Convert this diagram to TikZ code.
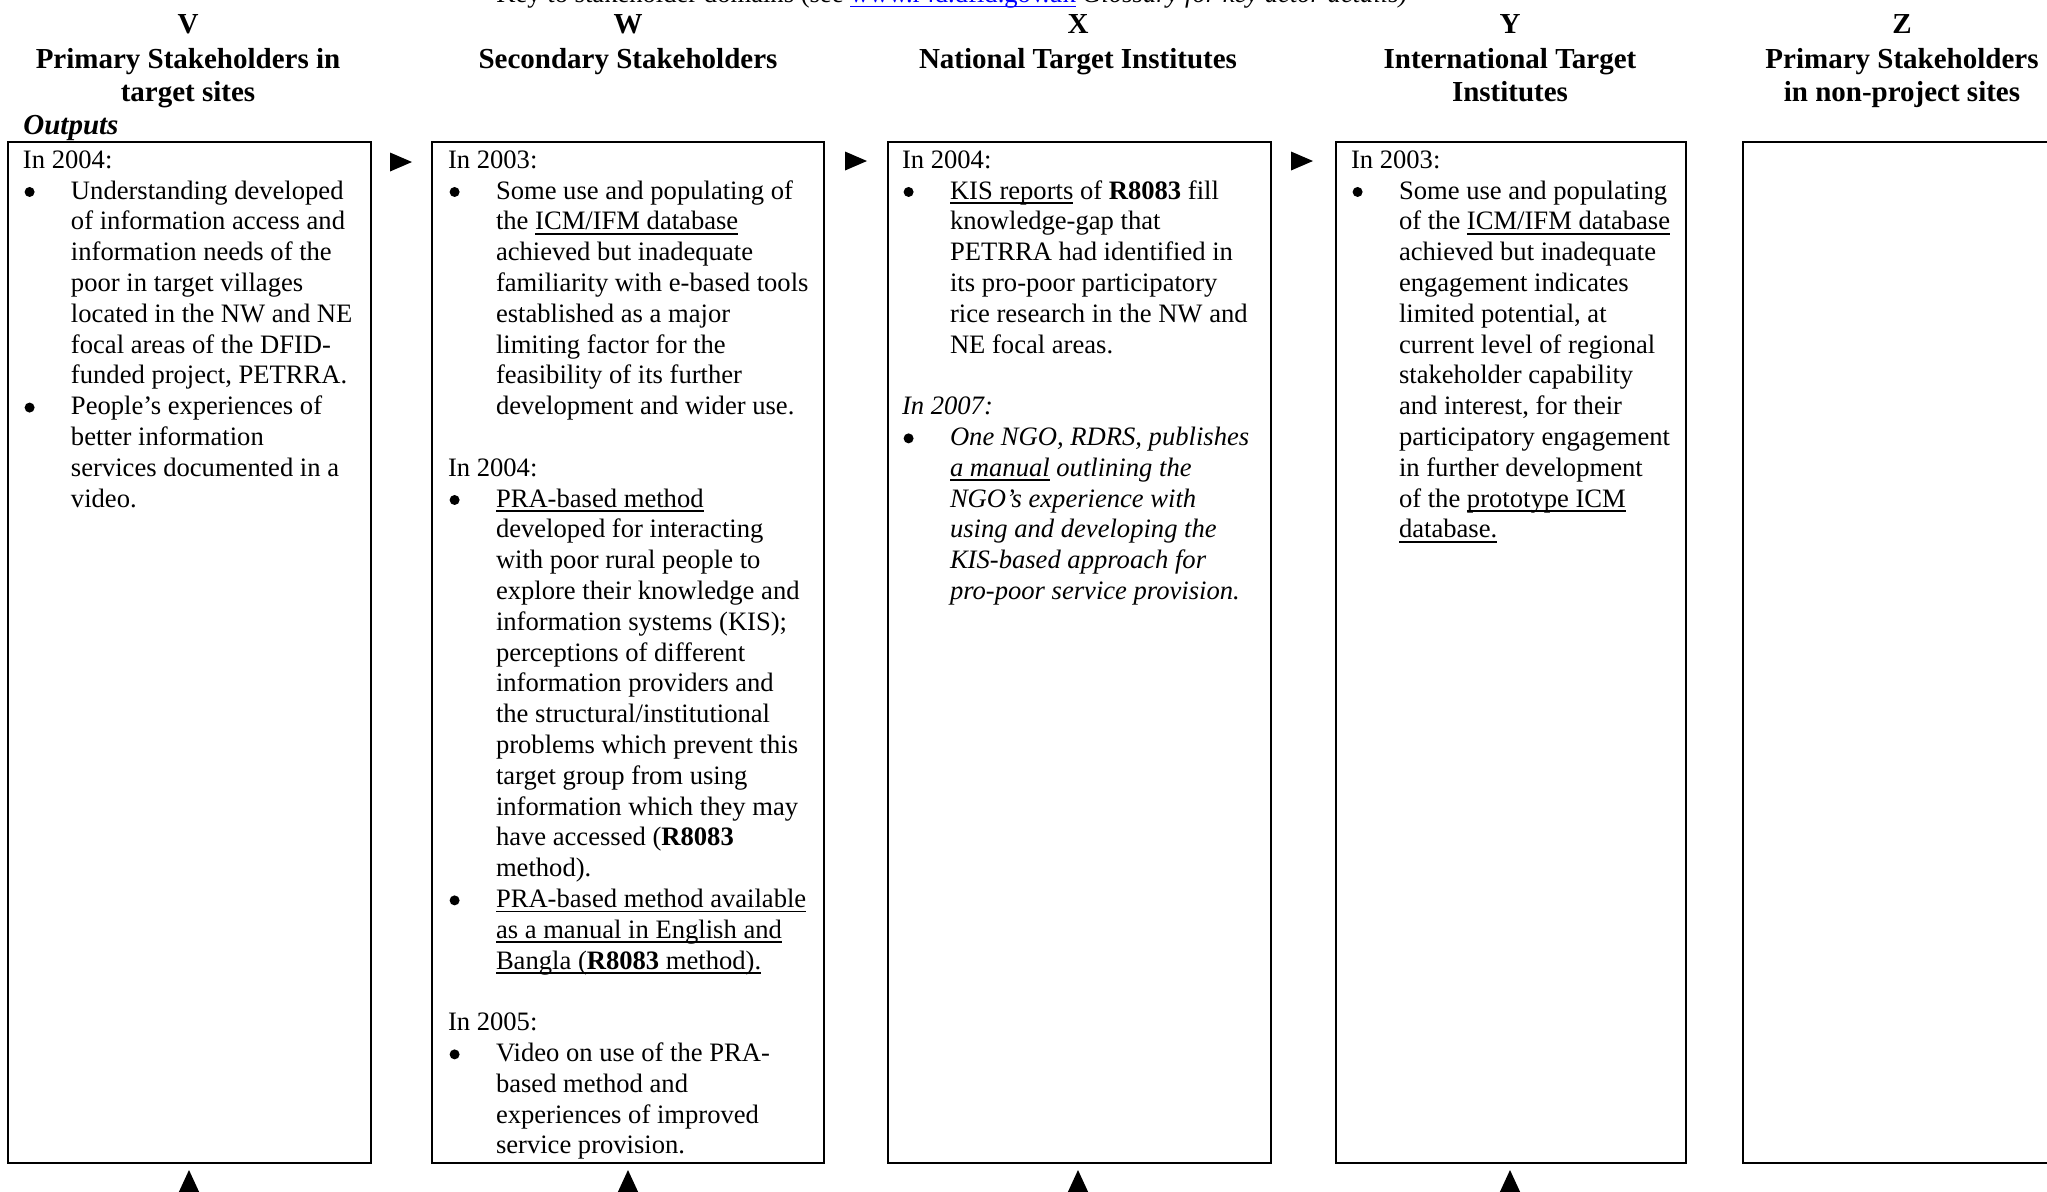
\documentclass[tikz,border=0pt]{standalone}
\usepackage{fontspec}
\setmainfont{Liberation Serif}
\newsavebox\ulbox
\newcommand\uln[1]{\sbox\ulbox{#1}\rlap{\rule[-2.4pt]{\wd\ulbox}{0.9pt}}\usebox\ulbox}
\newcommand\bodyfnt{\fontsize{13.3pt}{15.4pt}\selectfont}
\newcommand\headfnt{\fontsize{14.5pt}{16.5pt}\selectfont\bfseries}
\newcommand\bl{\makebox[24pt][l]{\hspace{0.8pt}\raisebox{1.1pt}{\tikz\fill[black] (0pt,0pt) circle (2.5pt);}}}
\newcommand\ind{\makebox[24pt]{}}
\begin{document}
\begin{tikzpicture}[x=0.5pt,y=-0.5pt,
  panel/.style={draw=black,line width=1.1pt},
  txt/.style={anchor=north west,inner sep=0pt,outer sep=0pt,align=left,font=\bodyfnt},
  hdletter/.style={anchor=base,inner sep=0pt,font=\headfnt},
  hdtitle/.style={anchor=north,inner sep=0pt,align=center,font=\headfnt},
  tri/.style={fill=black,draw=none}]
\useasboundingbox[fill=white] (0,0) rectangle (2047,1191);

% top (cut-off) note
\node[anchor=base west,inner sep=0pt,font=\bodyfnt] (topnote) at (496,2.5)
  {Key to stakeholder domains (see {\color{blue}\uln{www.r4d.dfid.gov.uk}} \textit{Glossary for key actor details)}};

% column headers
\node[hdletter] (hV) at (188,33) {V};
\node[hdletter] (hW) at (628,33) {W};
\node[hdletter] (hX) at (1078,33) {X};
\node[hdletter] (hY) at (1510,33) {Y};
\node[hdletter] (hZ) at (1902,33) {Z};
\node[hdtitle] (tV) at (188,44.9) {\strut Primary Stakeholders in\\target sites};
\node[hdtitle] (tW) at (628,44.9) {\strut Secondary Stakeholders};
\node[hdtitle] (tX) at (1078,44.9) {\strut National Target Institutes};
\node[hdtitle] (tY) at (1510,44.9) {\strut International Target\\Institutes};
\node[hdtitle] (tZ) at (1902,44.9) {\strut Primary Stakeholders\\in non-project sites};
\node[anchor=base west,inner sep=0pt,font=\headfnt] (outputs) at (23,134) {\textit{Outputs}};

% panels
\draw[panel] (8,142) rectangle (371,1163);
\draw[panel] (432,142) rectangle (824,1163);
\draw[panel] (888,142) rectangle (1271,1163);
\draw[panel] (1336,142) rectangle (1686,1163);
\draw[panel] (1743,142) rectangle (2070,1163);

% right-pointing triangles
\foreach \cx/\cy in {401/162,856/161,1302/161}
  \fill[tri] (\cx-11,\cy-9.5) -- (\cx+11,\cy) -- (\cx-11,\cy+9.5) -- cycle;
% up-pointing triangles
\foreach \cx in {189,628,1078,1510}
  \fill[tri] (\cx,1170) -- (\cx+12,1196) -- (\cx-12,1196) -- cycle;

% panel texts
\node[txt] (bV) at (23,146.8) {\strut In 2004:\\
\bl Understanding developed\\
\ind of information access and\\
\ind information needs of the\\
\ind poor in target villages\\
\ind located in the NW and NE\\
\ind focal areas of the DFID-\\
\ind funded project, PETRRA.\\
\bl People’s experiences of\\
\ind better information\\
\ind services documented in a\\
\ind video.};

\node[txt] (bW) at (448,146.8) {\strut In 2003:\\
\bl Some use and populating of\\
\ind the \uln{ICM/IFM database}\\
\ind achieved but inadequate\\
\ind familiarity with e-based tools\\
\ind established as a major\\
\ind limiting factor for the\\
\ind feasibility of its further\\
\ind development and wider use.\\
\strut\\
In 2004:\\
\bl \uln{PRA-based method}\\
\ind developed for interacting\\
\ind with poor rural people to\\
\ind explore their knowledge and\\
\ind information systems (KIS);\\
\ind perceptions of different\\
\ind information providers and\\
\ind the structural/institutional\\
\ind problems which prevent this\\
\ind target group from using\\
\ind information which they may\\
\ind have accessed (\textbf{R8083}\\
\ind method).\\
\bl \uln{PRA-based method available}\\
\ind \uln{as a manual in English and}\\
\ind \uln{Bangla (\textbf{R8083} method).}\\
\strut\\
In 2005:\\
\bl Video on use of the PRA-\\
\ind based method and\\
\ind experiences of improved\\
\ind service provision.};

\node[txt] (bX) at (902,146.8) {\strut In 2004:\\
\bl \uln{KIS reports} of \textbf{R8083} fill\\
\ind knowledge-gap that\\
\ind PETRRA had identified in\\
\ind its pro-poor participatory\\
\ind rice research in the NW and\\
\ind NE focal areas.\\
\strut\\
\textit{In 2007:}\\
\bl \textit{One NGO, RDRS, publishes}\\
\ind \textit{\uln{a manual} outlining the}\\
\ind \textit{NGO’s experience with}\\
\ind \textit{using and developing the}\\
\ind \textit{KIS-based approach for}\\
\ind \textit{pro-poor service provision.}};

\node[txt] (bY) at (1351,146.8) {\strut In 2003:\\
\bl Some use and populating\\
\ind of the \uln{ICM/IFM database}\\
\ind achieved but inadequate\\
\ind engagement indicates\\
\ind limited potential, at\\
\ind current level of regional\\
\ind stakeholder capability\\
\ind and interest, for their\\
\ind participatory engagement\\
\ind in further development\\
\ind of the \uln{prototype ICM}\\
\ind \uln{database.}};
\end{tikzpicture}
\end{document}
